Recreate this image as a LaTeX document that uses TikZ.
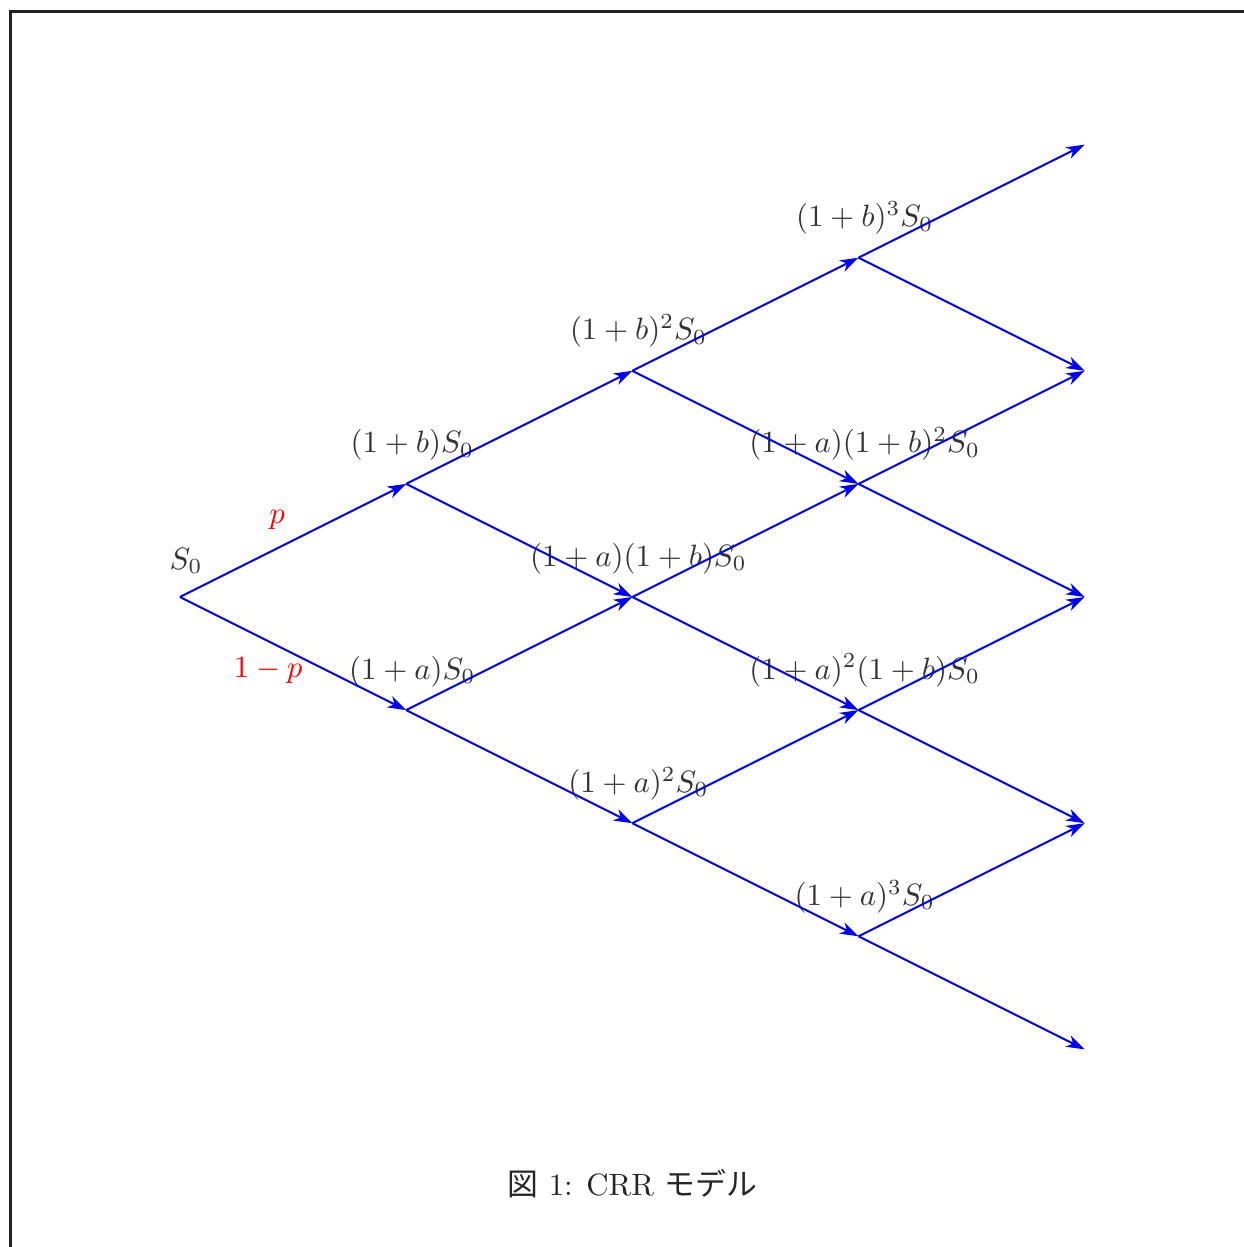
\documentclass[tikz,border=0pt]{standalone}
\usepackage{fontspec}
\newfontfamily\jpfont{Noto Sans CJK JP}
\usetikzlibrary{arrows.meta}
\tikzset{
  edge/.style={draw=blue, line width=0.65pt,
               -{Stealth[length=6pt,width=4pt,inset=1.8pt]}},
  prob/.style={text=red, inner sep=3.33pt},
  frame/.style={draw=black!87, line width=1.07pt},
}

\begin{document}
\begin{tikzpicture}[x=2.577cm, y=1.2886cm, label distance=4pt,
                    every label/.style={text=black!80, xshift=2pt}]
  \useasboundingbox (-0.7956,-5.7471) rectangle (4.7028,5.2785);
  \draw[frame] (-0.7483,-5.9) -- (-0.7483,5.175) -- (4.9,5.175);
  % lattice points
  \coordinate[label=above:$S_0$]                (S)    at (0,0);
  \coordinate[label=above:$(1+b)S_0$]           (B)    at (1,1);
  \coordinate[label=above:$(1+a)S_0$]           (A)    at (1,-1);
  \coordinate[label=above:$(1+b)^2S_0$]         (BB)   at (2,2);
  \coordinate[label=above:$(1+a)(1+b)S_0$]      (AB)   at (2,0);
  \coordinate[label=above:$(1+a)^2S_0$]         (AA)   at (2,-2);
  \coordinate[label=above:$(1+b)^3S_0$]         (BBB)  at (3,3);
  \coordinate[label=above:$(1+a)(1+b)^2S_0$]    (ABB)  at (3,1);
  \coordinate[label=above:$(1+a)^2(1+b)S_0$]    (AAB)  at (3,-1);
  \coordinate[label=above:$(1+a)^3S_0$]         (AAA)  at (3,-3);
  \coordinate (T4)  at (4,4);
  \coordinate (T2)  at (4,2);
  \coordinate (T0)  at (4,0);
  \coordinate (Tm2) at (4,-2);
  \coordinate (Tm4) at (4,-4);
  % step 1
  \draw[edge] (S) -- node[prob, midway, above left, xshift=1pt] (pu) {$p$} (B);
  \draw[edge] (S) -- node[prob, pos=0.39, below=1.7pt] (pd) {$1-p$} (A);
  % step 2
  \draw[edge] (B)  -- (BB);
  \draw[edge] (B)  -- (AB);
  \draw[edge] (A)  -- (AB);
  \draw[edge] (A)  -- (AA);
  % step 3
  \draw[edge] (BB) -- (BBB);
  \draw[edge] (BB) -- (ABB);
  \draw[edge] (AB) -- (ABB);
  \draw[edge] (AB) -- (AAB);
  \draw[edge] (AA) -- (AAB);
  \draw[edge] (AA) -- (AAA);
  % step 4
  \draw[edge] (BBB) -- (T4);
  \draw[edge] (BBB) -- (T2);
  \draw[edge] (ABB) -- (T2);
  \draw[edge] (ABB) -- (T0);
  \draw[edge] (AAB) -- (T0);
  \draw[edge] (AAB) -- (Tm2);
  \draw[edge] (AAA) -- (Tm2);
  \draw[edge] (AAA) -- (Tm4);
  \node[anchor=base, text=black!85] (cap) at (2,-5.296)
    {{\jpfont 図} 1: CRR {\jpfont モデル}};
\end{tikzpicture}
\end{document}
